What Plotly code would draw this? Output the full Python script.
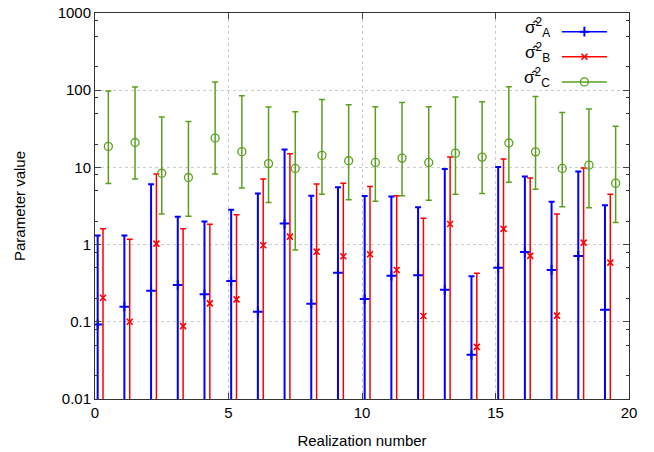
import plotly.graph_objects as go

# ---- data ----
realization = list(range(20))

a_val = [0.0925, 0.157, 0.252, 0.30, 0.227, 0.337, 0.135, 1.87, 0.171, 0.432,
         0.197, 0.395, 0.40, 0.26, 0.0373, 0.50, 0.80, 0.469, 0.713, 0.143]
a_hi = [1.31, 1.31, 6.07, 2.3, 1.99, 2.82, 4.6, 17.0, 4.3, 5.55,
        4.25, 4.2, 3.05, 9.5, 0.388, 10.1, 7.6, 3.58, 8.85, 3.24]
a_lo = [0.0, 0.0, 0.0, 0.0, 0.0, 0.0, 0.0, 0.0, 0.0, 0.0,
        0.0, 0.0, 0.0, 0.0, 0.0, 0.0, 0.0, 0.0, 0.0, 0.0]

b_val = [0.205, 0.10, 1.03, 0.088, 0.173, 0.195, 0.98, 1.27, 0.81, 0.706,
         0.75, 0.469, 0.119, 1.85, 0.0474, 1.6, 0.713, 0.12, 1.06, 0.583]
b_hi = [1.61, 1.17, 8.2, 1.61, 1.84, 2.43, 7.05, 15.0, 6.1, 6.25,
        5.65, 4.3, 2.2, 13.6, 0.425, 12.8, 7.3, 2.5, 9.8, 4.5]
b_lo = [0.0, 0.0, 0.0, 0.0, 0.0, 0.0, 0.0, 0.0, 0.0, 0.0,
        0.0, 0.0, 0.0, 0.0, 0.0, 0.0, 0.0, 0.0, 0.0, 0.0]

c_val = [18.7, 21.0, 8.4, 7.4, 24.0, 16.0, 11.2, 9.7, 14.3, 12.2,
         11.6, 13.2, 11.6, 15.3, 13.6, 20.7, 15.9, 9.7, 10.7, 6.25]
c_hi = [98, 110, 45, 39.4, 128, 85, 60.6, 52.7, 76, 65,
        61, 69.5, 61, 81.7, 71, 111, 83, 51.6, 57, 34]
c_lo = [6.2, 7.1, 2.5, 2.33, 8.2, 5.4, 3.5, 0.85, 4.5, 3.8,
        3.65, 4.3, 3.76, 4.5, 4.6, 6.4, 5.2, 3.1, 3.0, 1.93]

y_tickvals = [0.01, 0.1, 1, 10, 100, 1000]
y_ticktext = ["0.01", "0.1", "1", "10", "100", "1000"]
x_tickvals = [0, 5, 10, 15, 20]

names = ["σ̂<sup>2</sup><sub>A</sub>", "σ̂<sup>2</sup><sub>B</sub>", "σ̂<sup>2</sup><sub>C</sub>"]

# ---- styling ----
FONT = "Liberation Sans, Arial, sans-serif"
BLUE, RED, GREEN = "#0000ff", "#ff0000", "#5aa01e"

series = [
    (a_val, a_hi, a_lo, 0.1, BLUE, "cross-thin", 7, 2.0, 2.0),
    (b_val, b_hi, b_lo, 0.3, RED, "x-thin", 6, 1.6, 1.5),
    (c_val, c_hi, c_lo, 0.5, GREEN, "circle-open", 8, 1.3, 1.5),
]

fig = go.Figure()
for (val, hi, lo, off, col, sym, msz, mlw, ew) in series:
    xs = [r + off for r in realization]
    fig.add_trace(go.Scatter(
        x=xs, y=val, mode="markers", showlegend=False,
        marker=dict(symbol=sym, size=msz, color=col, line=dict(color=col, width=mlw)),
        error_y=dict(type="data", symmetric=False,
                     array=[h - v for h, v in zip(hi, val)],
                     arrayminus=[v - l for v, l in zip(val, lo)],
                     color=col, thickness=ew, width=3),
    ))
    # legend sample (label drawn separately, to the left, gnuplot style)
    fig.add_trace(go.Scatter(
        x=[None], y=[None], mode="lines+markers", name=" ",
        line=dict(color=col, width=1.5),
        marker=dict(symbol=sym, size=msz, color=col, line=dict(color=col, width=mlw)),
    ))

# overlay axis for minor ticks (2, 5, 8 per decade)
minor_vals = [m * 10.0 ** d for d in range(-2, 3) for m in (2, 5, 8)]
fig.add_trace(go.Scatter(x=[None], y=[None], yaxis="y2", showlegend=False))

# legend labels to the left of the samples
label_y = [0.962, 0.898, 0.834]
for nm, ly in zip(names, label_y):
    fig.add_annotation(x=0.855, y=ly, xref="paper", yref="paper",
                       xanchor="right", yanchor="middle", showarrow=False,
                       text=nm, font=dict(size=17, family=FONT))

fig.update_layout(
    width=654, height=452,
    margin=dict(l=95, r=25, t=13, b=53),
    paper_bgcolor="white", plot_bgcolor="white",
    font=dict(family=FONT, size=15, color="black"),
    xaxis=dict(
        range=[0, 20], tickvals=x_tickvals, ticks="inside", ticklen=6,
        showline=True, mirror="ticks", linecolor="#333333", linewidth=1,
        showgrid=True, gridcolor="#cccccc", griddash="dot", gridwidth=1,
        zeroline=False, tickfont=dict(size=15), automargin=False,
        ticklabeloverflow="allow",
        title=dict(text="Realization number", font=dict(size=15), standoff=15),
    ),
    yaxis=dict(
        type="log", range=[-2, 3], tickvals=y_tickvals, ticktext=y_ticktext,
        ticks="inside", ticklen=6,
        showline=True, mirror="ticks", linecolor="#333333", linewidth=1,
        showgrid=True, gridcolor="#cccccc", griddash="dot", gridwidth=1,
        zeroline=False, tickfont=dict(size=15), automargin=False,
        ticklabeloverflow="allow",
        title=dict(text="Parameter value", font=dict(size=15), standoff=28),
    ),
    yaxis2=dict(
        type="log", range=[-2, 3], overlaying="y", anchor="x", side="left",
        tickvals=minor_vals, ticks="inside", ticklen=3, tickcolor="#333333",
        showticklabels=False, showgrid=False, zeroline=False, automargin=False,
        showline=False, mirror="ticks",
    ),
    legend=dict(
        x=0.865, xanchor="left", y=0.997, yanchor="top",
        bgcolor="rgba(0,0,0,0)", font=dict(size=17),
        itemwidth=45, tracegroupgap=0,
    ),
)

fig.write_html("out.html", config={"displayModeBar": False},
               post_script="document.body.style.margin='0';document.body.style.overflow='hidden';")
